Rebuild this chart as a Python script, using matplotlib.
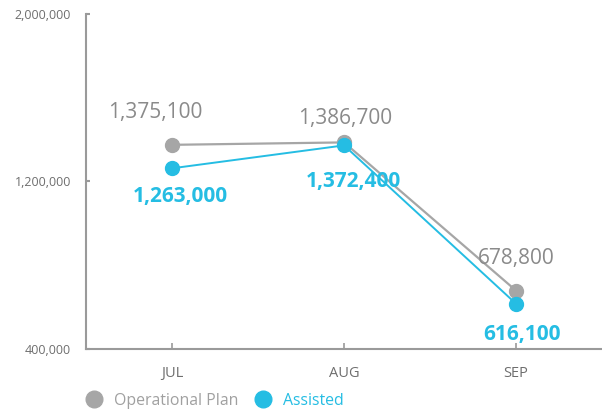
import matplotlib.pyplot as plt
from matplotlib.ticker import FuncFormatter
from matplotlib.lines import Line2D

plt.rcParams['font.family'] = ['Open Sans', 'DejaVu Sans']

months = ['JUL', 'AUG', 'SEP']
operational_plan = [1375100, 1386700, 678800]
assisted = [1263000, 1372400, 616100]
y_ticks = [400000, 1200000, 2000000]

GRAY = '#a6a6a6'
BLUE = '#25bde3'
TEXT = '#6e6e6e'

fig = plt.figure(figsize=(6.02, 4.12), dpi=100)
ax = fig.add_axes([0.143, 0.153, 0.857, 0.813])

x = list(range(len(months)))
ax.plot(x, operational_plan, color=GRAY, lw=1.6, marker='o', ms=10, zorder=2)
ax.plot(x, assisted, color=BLUE, lw=1.4, marker='o', ms=10, zorder=3)

# label offsets in points (dx, dy)
gray_off = [(-12, 23), (1, 17), (0, 23)]
blue_off = [(6, -20), (7, -26), (4, -22)]
for i, v in enumerate(operational_plan):
    ax.annotate(f'{v:,}', (x[i], v), xytext=gray_off[i], textcoords='offset points',
                ha='center', va='center', fontsize=15, color='#8a8a8a')
for i, v in enumerate(assisted):
    ax.annotate(f'{v:,}', (x[i], v), xytext=blue_off[i], textcoords='offset points',
                ha='center', va='center', fontsize=15, color=BLUE, fontweight='bold')

ax.set_xlim(-0.5, 2.5)
ax.set_ylim(400000, 2000000)
ax.set_xticks(x)
ax.set_xticklabels(months)
ax.set_yticks(y_ticks)
ax.yaxis.set_major_formatter(FuncFormatter(lambda v, p: f'{int(v):,}'))

for side in ['top', 'right']:
    ax.spines[side].set_visible(False)
for side in ['left', 'bottom']:
    ax.spines[side].set_color('#9a9a9a')
    ax.spines[side].set_linewidth(1.5)

ax.tick_params(axis='y', direction='in', length=3, width=1.5, color='#9a9a9a',
               labelsize=9, labelcolor=TEXT, pad=11)
ax.tick_params(axis='x', direction='in', length=4, width=1.2, color='#9a9a9a',
               labelsize=10.5, labelcolor=TEXT, pad=12)

handles = [Line2D([], [], ls='', marker='o', ms=12, color=GRAY),
           Line2D([], [], ls='', marker='o', ms=12, color=BLUE)]
leg = fig.legend(handles, ['Operational Plan', 'Assisted'], loc='lower left',
                 bbox_to_anchor=(0.113, -0.027), ncol=2, frameon=False, fontsize=11.4,
                 handletextpad=0.5, columnspacing=0.8, handlelength=1.5)
for t, c in zip(leg.get_texts(), ['#a0a0a0', BLUE]):
    t.set_color(c)

fig.savefig('out.png', dpi=100)
